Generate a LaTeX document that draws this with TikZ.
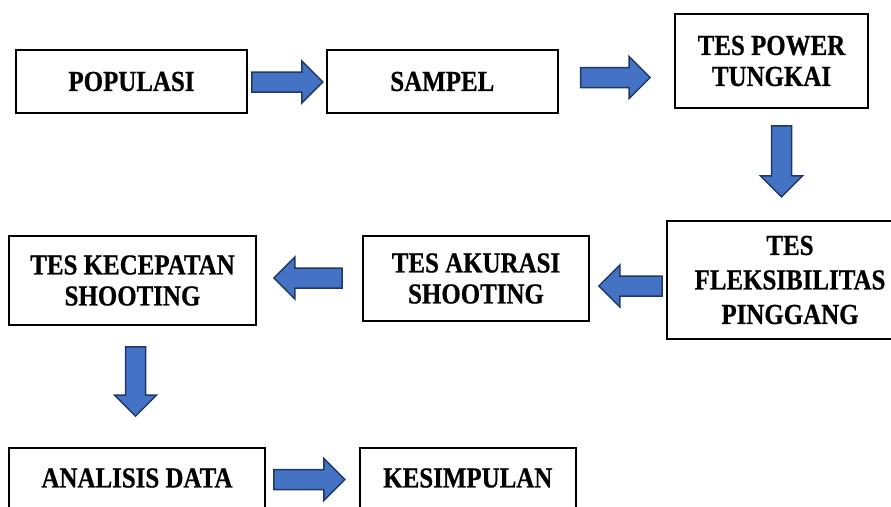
\documentclass[tikz,border=0pt]{standalone}
\usepackage{fontspec}
\newfontfamily\boxfont{Liberation Serif}[FakeStretch=0.86, FakeBold=0.6]
\usetikzlibrary{calc, positioning}
\definecolor{arrowblue}{RGB}{68, 114, 196}
\definecolor{arrowedge}{RGB}{32, 56, 100}
% block arrow between two points: shaft 20, head 42, head length 21
\newcommand{\blockarr}[2]{%
	\coordinate (bs) at (#1);
	\coordinate (be) at (#2);
	\coordinate (bj) at ($(be)!21pt!(bs)$);
	\draw[arrowbody] ($(bs)!10pt!90:(be)$) -- ($(bj)!10pt!90:(be)$)
	-- ($(bj)!21pt!90:(be)$) -- (be) -- ($(bj)!21pt!-90:(be)$)
	-- ($(bj)!10pt!-90:(be)$) -- ($(bs)!10pt!-90:(be)$) -- cycle;}

\begin{document}
\begin{tikzpicture}[
				x=1pt, y=-1pt,
				stepbox/.style={draw, line width=1.8pt, inner sep=0pt, align=center,
					font=\boxfont\bfseries\fontsize{29}{31}\selectfont},
				arrowbody/.style={draw=arrowedge, fill=arrowblue, line width=1.5pt, line join=miter}
				]
				\useasboundingbox (0,0) rectangle (891,506);
				\clip (0,0) rectangle (891,506);
				\node[stepbox, minimum width=231pt, minimum height=63pt] (pop) at (131.5,81.5)
				{POPULASI};
				\node[stepbox, minimum width=231pt, minimum height=63pt, right=78pt of pop] (sam)
				{SAMPEL};
				\node[stepbox, minimum width=193pt, minimum height=94pt] (pow) at (771.5,61)
				{TES POWER\\TUNGKAI};
				\node[stepbox, minimum width=246pt, minimum height=118pt,
				font=\boxfont\bfseries\fontsize{29}{34.5}\selectfont] (fle) at (790,280)
				{TES\\FLEKSIBILITAS\\PINGGANG};
				\node[stepbox, minimum width=226pt, minimum height=85pt] (aku) at (476,278.5)
				{TES AKURASI\\SHOOTING};
				\node[stepbox, minimum width=247pt, minimum height=89pt] (kec) at (132.5,280.5)
				{TES KECEPATAN\\SHOOTING};
				\node[stepbox, minimum width=256pt, minimum height=60pt] (ana) at (137,478)
				{ANALISIS DATA};
				\node[stepbox, minimum width=216pt, minimum height=60pt, right=93pt of ana] (kes)
				{KESIMPULAN};
				\blockarr{$(pop.east)+(4,0.5)$}{$(sam.west)+(-3,0.5)$}
				\blockarr{$(sam.east)+(22,-4)$}{$(pow.west |- sam.east)+(-24,-4)$}
				\blockarr{$(pow.south)+(10,17)$}{$(pow.south)+(10,88)$}
				\blockarr{$(fle.west)+(-4,6)$}{$(aku.east)+(9,7.5)$}
				\blockarr{$(aku.west)+(-20,-0.5)$}{$(kec.east)+(17,-2.5)$}
				\blockarr{$(kec.south)+(3,21)$}{$(ana.north)+(-1.5,-31)$}
				\blockarr{$(ana.east)+(8,1.5)$}{$(kes.west)+(-14,1.5)$}
			\end{tikzpicture}
\end{document}
